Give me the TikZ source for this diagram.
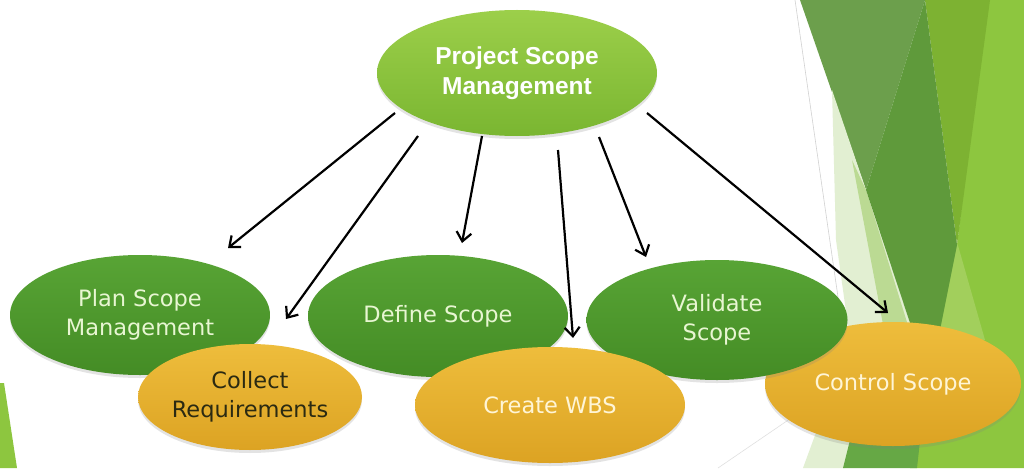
\documentclass[tikz,border=0pt]{standalone}
\usepackage{fontspec}
\setmainfont{DejaVu Sans}
\newfontfamily\arialfont{Liberation Sans}
\usetikzlibrary{shapes.geometric,arrows.meta,shadows}
\definecolor{bgbright}{HTML}{8DC63F}
\definecolor{bgolive}{HTML}{7DB232}
\definecolor{bggrey}{HTML}{6C9F4C}
\definecolor{bgdark}{HTML}{5F9A3B}
\definecolor{bgpale}{HTML}{E2EFD2}
\definecolor{bglight}{HTML}{BBDA93}
\definecolor{bgmid}{HTML}{66A845}
\definecolor{bgstrip}{HTML}{A2CF5C}
\definecolor{psmtop}{HTML}{9CCF4A}
\definecolor{psmbot}{HTML}{7AB631}
\definecolor{dgtop}{HTML}{58A435}
\definecolor{dgbot}{HTML}{448C25}
\definecolor{ortop}{HTML}{EEBD3C}
\definecolor{orbot}{HTML}{DCA323}
\definecolor{paletext}{HTML}{E8F6D2}
\definecolor{creamtext}{HTML}{FFF5D6}
\definecolor{darktext}{HTML}{2B2A12}
\tikzset{
  blob/.style={ellipse, inner sep=0pt, align=center,
    drop shadow={opacity=0.22, shadow xshift=0pt, shadow yshift=-3pt}},
  mainblob/.style={blob, top color=psmtop, bottom color=psmbot, text=white,
    font=\arialfont\bfseries\fontsize{24.5}{30}\selectfont},
  greenblob/.style={blob, top color=dgtop, bottom color=dgbot, text=paletext,
    font=\fontsize{22.5}{29}\selectfont},
  orangeblob/.style={blob, top color=ortop, bottom color=orbot, text=creamtext,
    font=\fontsize{22.5}{29}\selectfont},
  link/.style={draw=black, line width=2.2pt,
    -{Straight Barb[length=9pt,width=15pt,line width=2.2pt]}},
  facet/.style={draw=none}
}
\begin{document}
\begin{tikzpicture}[x=1pt,y=-1pt]
% background
\fill[white] (0,0) rectangle (1024,468);
\useasboundingbox (0,0) rectangle (1024,468);
\fill[facet, bgbright] (987,0) -- (1024,0) -- (1024,468) -- (910,468) -- (957,245) -- cycle;
\fill[facet, bgstrip] (957,242) -- (985,340) -- (936,340) -- cycle;
\fill[facet, bgolive] (925,0) -- (990,0) -- (957,245) -- cycle;
\fill[facet, bggrey] (800,0) -- (925,0) -- (866,190) -- cycle;
\fill[facet, bgpale] (832,90) -- (866,190) -- (913,332) -- (850,340) -- (836,240) -- cycle;
\fill[facet, bglight] (852,160) -- (866,190) -- (910,332) -- (885,335) -- cycle;
\fill[facet, bgdark] (925,0) -- (957,245) -- (940,330) -- (913,332) -- (866,190) -- cycle;
\fill[facet, bgpale] (803,468) -- (845,468) -- (862,380) -- (850,340) -- cycle;
\fill[facet, bgmid] (843,468) -- (917,468) -- (930,350) -- (860,400) -- cycle;
\fill[facet, bgbright] (0,383) -- (4,383) -- (17,468) -- (0,468) -- cycle;
\draw[black!18, line width=0.6pt] (795,0) -- (850,380);
\draw[black!12, line width=0.6pt] (718,468) -- (800,412);

% nodes
\node[mainblob, minimum width=280pt, minimum height=126pt] (psm) at (517,73) {Project Scope\\Management};
\node[greenblob, minimum width=260pt, minimum height=120pt] (plan) at (140,315) {Plan Scope\\Management};
\node[greenblob, minimum width=260pt, minimum height=122pt] (define) at (438,316) {Define Scope};
\node[orangeblob, minimum width=256pt, minimum height=124pt] (control) at (893,384) {Control Scope};
\node[greenblob, minimum width=261pt, minimum height=120pt] (validate) at (717,320) {Validate\\Scope};
\node[orangeblob, text=darktext, minimum width=224pt, minimum height=106pt] (collect) at (250,397) {Collect\\Requirements};
\node[orangeblob, minimum width=270pt, minimum height=116pt] (wbs) at (550,405) {Create WBS};

% arrow end points
\coordinate (s1) at (395,113); \coordinate (e1) at (228,248);
\coordinate (s2) at (418,136); \coordinate (e2) at (286,319);
\coordinate (s3) at (482,136); \coordinate (e3) at (462,243);
\coordinate (s4) at (558,150); \coordinate (e4) at (573,338);
\coordinate (s5) at (599,137); \coordinate (e5) at (646,257);
\coordinate (s6) at (647,113); \coordinate (e6) at (888,313);
\draw[link] (s1) -- (e1);
\draw[link] (s2) -- (e2);
\draw[link] (s3) -- (e3);
\draw[link] (s4) -- (e4);
\draw[link] (s5) -- (e5);
\draw[link] (s6) -- (e6);
\end{tikzpicture}
\end{document}
